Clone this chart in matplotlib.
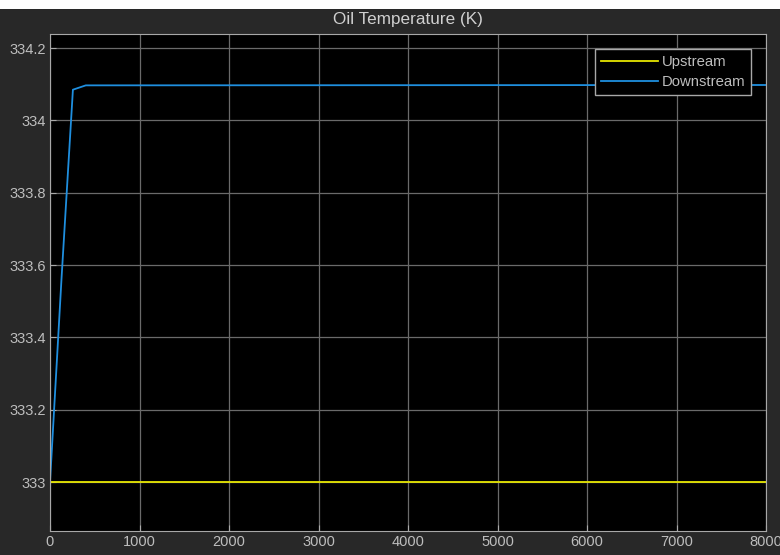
import matplotlib
matplotlib.use("Agg")
import matplotlib.pyplot as plt
from matplotlib.patches import Rectangle

plt.rcParams['font.family'] = ['Liberation Sans', 'DejaVu Sans']

# data
time = [0, 128, 256, 400, 8000]
upstream = [333.0, 333.0, 333.0, 333.0, 333.0]
downstream = [333.0, 333.56, 334.085, 334.097, 334.098]
xticks = [0, 1000, 2000, 3000, 4000, 5000, 6000, 7000, 8000]
yticks = [333, 333.2, 333.4, 333.6, 333.8, 334, 334.2]
ytick_labels = ["333", "333.2", "333.4", "333.6", "333.8", "334", "334.2"]

txt = '#bdbdbd'

fig = plt.figure(figsize=(7.8, 5.55), dpi=100, facecolor='white')
fig.patches.append(Rectangle((0, 0), 1, 546 / 555, transform=fig.transFigure,
                             facecolor='#282828', edgecolor='none', zorder=-10))

ax = fig.add_axes([50 / 780, 24 / 555, 716 / 780, 497 / 555])
ax.set_facecolor('black')

ax.plot(time, upstream, color='#e6e600', lw=1.3, label='Upstream')
ax.plot(time, downstream, color='#1f8fdf', lw=1.3, label='Downstream')

ax.set_xlim(0, 8000)
ax.set_ylim(332.865, 334.239)
ax.set_xticks(xticks)
ax.set_yticks(yticks)
ax.set_yticklabels(ytick_labels)
ax.grid(True, color='#6a6a6a', lw=0.9)
ax.tick_params(direction='in', length=4, colors='#aaaaaa', labelcolor=txt,
               labelsize=10.5, pad=3)
for s in ax.spines.values():
    s.set_color('#a8a8a8')

ax.set_title('Oil Temperature (K)', color='#d0d0d0', fontsize=12.3, pad=7)

leg = ax.legend(loc='upper right', fontsize=10.7, frameon=True, fancybox=False,
                handlelength=3.8, borderaxespad=1.0, labelspacing=0.4,
                handletextpad=0.25, borderpad=0.4)
leg.get_frame().set_facecolor('black')
leg.get_frame().set_edgecolor('#a8a8a8')
leg.get_frame().set_alpha(1)
for t in leg.get_texts():
    t.set_color(txt)

fig.savefig('out.png', dpi=100, facecolor=fig.get_facecolor())
